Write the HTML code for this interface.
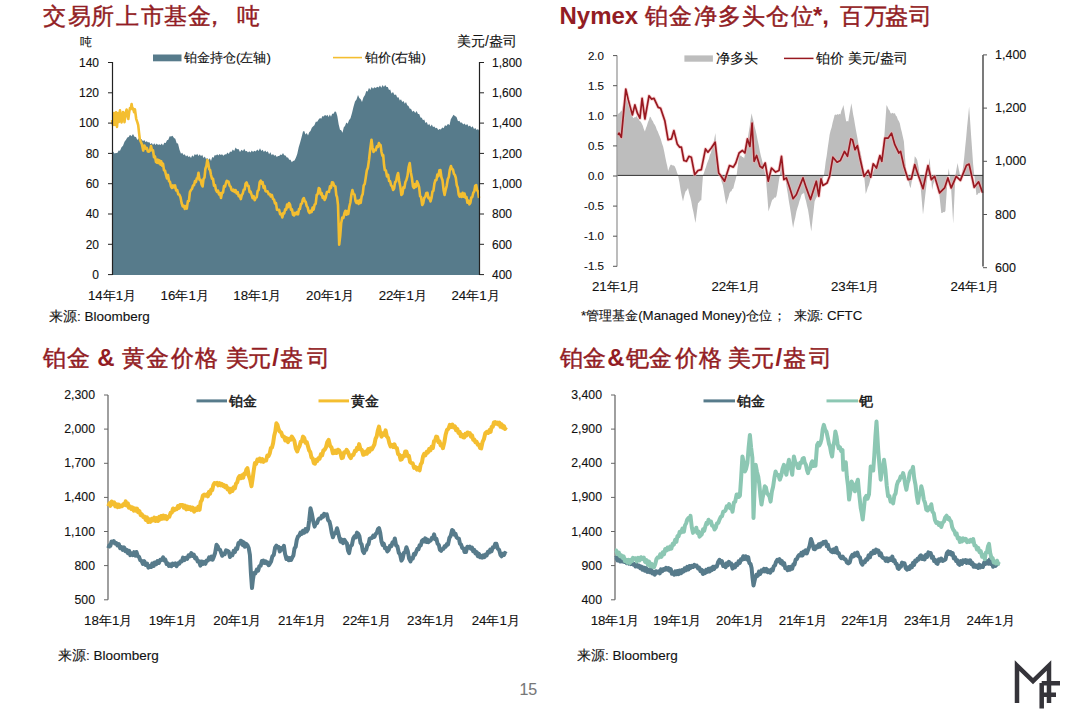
<!DOCTYPE html>
<html><head><meta charset="utf-8"><style>
html,body{margin:0;padding:0;background:#fff;}
body{width:1080px;height:723px;overflow:hidden;}
svg{display:block;font-family:"Liberation Sans",sans-serif;}
</style></head><body>
<svg width="1080" height="723" viewBox="0 0 1080 723">
<text x="42.9" y="23.5" font-size="22.5" fill="#921D24" stroke="#921D24" stroke-width="0.45">交</text>
<text x="68.2" y="23.5" font-size="22.5" fill="#921D24" stroke="#921D24" stroke-width="0.45">易</text>
<text x="90.9" y="23.5" font-size="22.5" fill="#921D24" stroke="#921D24" stroke-width="0.45">所</text>
<text x="115.5" y="23.5" font-size="22.5" fill="#921D24" stroke="#921D24" stroke-width="0.45">上</text>
<text x="140.9" y="23.5" font-size="22.5" fill="#921D24" stroke="#921D24" stroke-width="0.45">市</text>
<text x="163.8" y="23.5" font-size="22.5" fill="#921D24" stroke="#921D24" stroke-width="0.45">基</text>
<text x="188.3" y="23.5" font-size="22.5" fill="#921D24" stroke="#921D24" stroke-width="0.45">金</text>
<text x="202.7" y="23.5" font-size="22.5" fill="#921D24" stroke="#921D24" stroke-width="0.45">，</text>
<text x="237.1" y="23.5" font-size="22.5" fill="#921D24" stroke="#921D24" stroke-width="0.45">吨</text>
<text x="559.5" y="23.5" font-size="24" font-weight="bold" fill="#921D24">Nymex</text>
<text x="644.6" y="23.5" font-size="22.5" fill="#921D24" stroke="#921D24" stroke-width="0.45">铂</text>
<text x="668.5" y="23.5" font-size="22.5" fill="#921D24" stroke="#921D24" stroke-width="0.45">金</text>
<text x="694.0" y="23.5" font-size="22.5" fill="#921D24" stroke="#921D24" stroke-width="0.45">净</text>
<text x="717.9" y="23.5" font-size="22.5" fill="#921D24" stroke="#921D24" stroke-width="0.45">多</text>
<text x="741.8" y="23.5" font-size="22.5" fill="#921D24" stroke="#921D24" stroke-width="0.45">头</text>
<text x="765.9" y="23.5" font-size="22.5" fill="#921D24" stroke="#921D24" stroke-width="0.45">仓</text>
<text x="790.9" y="23.5" font-size="22.5" fill="#921D24" stroke="#921D24" stroke-width="0.45">位</text>
<text x="813.0" y="23.5" font-size="24" font-weight="bold" fill="#921D24">*,</text>
<text x="840.0" y="23.5" font-size="22.5" fill="#921D24" stroke="#921D24" stroke-width="0.45">百</text>
<text x="864.0" y="23.5" font-size="22.5" fill="#921D24" stroke="#921D24" stroke-width="0.45">万</text>
<text x="885.3" y="23.5" font-size="22.5" fill="#921D24" stroke="#921D24" stroke-width="0.45">盎</text>
<text x="909.4" y="23.5" font-size="22.5" fill="#921D24" stroke="#921D24" stroke-width="0.45">司</text>
<text x="43.0" y="366" font-size="22.5" fill="#921D24" stroke="#921D24" stroke-width="0.45">铂</text>
<text x="66.8" y="366" font-size="22.5" fill="#921D24" stroke="#921D24" stroke-width="0.45">金</text>
<text x="97.3" y="366" font-size="24" font-weight="bold" fill="#921D24">&amp;</text>
<text x="122.3" y="366" font-size="22.5" fill="#921D24" stroke="#921D24" stroke-width="0.45">黄</text>
<text x="146.4" y="366" font-size="22.5" fill="#921D24" stroke="#921D24" stroke-width="0.45">金</text>
<text x="171.4" y="366" font-size="22.5" fill="#921D24" stroke="#921D24" stroke-width="0.45">价</text>
<text x="194.5" y="366" font-size="22.5" fill="#921D24" stroke="#921D24" stroke-width="0.45">格</text>
<text x="225.6" y="366" font-size="22.5" fill="#921D24" stroke="#921D24" stroke-width="0.45">美</text>
<text x="247.6" y="366" font-size="22.5" fill="#921D24" stroke="#921D24" stroke-width="0.45">元</text>
<text x="272.3" y="366" font-size="24" font-weight="bold" fill="#921D24">/</text>
<text x="280.0" y="366" font-size="22.5" fill="#921D24" stroke="#921D24" stroke-width="0.45">盎</text>
<text x="306.6" y="366" font-size="22.5" fill="#921D24" stroke="#921D24" stroke-width="0.45">司</text>
<text x="559.7" y="366" font-size="22.5" fill="#921D24" stroke="#921D24" stroke-width="0.45">铂</text>
<text x="583.3" y="366" font-size="22.5" fill="#921D24" stroke="#921D24" stroke-width="0.45">金</text>
<text x="607.3" y="366" font-size="24" font-weight="bold" fill="#921D24">&amp;</text>
<text x="625.9" y="366" font-size="22.5" fill="#921D24" stroke="#921D24" stroke-width="0.45">钯</text>
<text x="649.0" y="366" font-size="22.5" fill="#921D24" stroke="#921D24" stroke-width="0.45">金</text>
<text x="675.0" y="366" font-size="22.5" fill="#921D24" stroke="#921D24" stroke-width="0.45">价</text>
<text x="699.0" y="366" font-size="22.5" fill="#921D24" stroke="#921D24" stroke-width="0.45">格</text>
<text x="728.2" y="366" font-size="22.5" fill="#921D24" stroke="#921D24" stroke-width="0.45">美</text>
<text x="750.9" y="366" font-size="22.5" fill="#921D24" stroke="#921D24" stroke-width="0.45">元</text>
<text x="775.5" y="366" font-size="24" font-weight="bold" fill="#921D24">/</text>
<text x="783.3" y="366" font-size="22.5" fill="#921D24" stroke="#921D24" stroke-width="0.45">盎</text>
<text x="809.2" y="366" font-size="22.5" fill="#921D24" stroke="#921D24" stroke-width="0.45">司</text>
<path d="M112.0,152.0 L113.0,151.4 L114.5,153.4 L116.0,153.0 L117.3,153.0 L118.7,150.5 L120.0,150.7 L121.5,147.2 L123.0,145.8 L124.5,141.7 L126.0,139.8 L127.3,137.5 L128.7,137.0 L130.0,134.7 L131.5,136.2 L133.0,134.0 L134.5,136.7 L136.0,137.0 L137.3,139.9 L138.7,138.2 L140.0,140.4 L141.5,139.0 L143.0,141.3 L144.2,140.0 L145.5,142.1 L146.8,141.3 L148.0,142.4 L149.2,141.9 L150.5,144.2 L151.8,143.0 L153.0,144.9 L154.2,143.2 L155.5,145.0 L156.8,143.6 L158.0,145.0 L159.2,144.3 L160.5,145.1 L161.8,143.6 L163.0,145.4 L164.3,142.8 L165.7,143.1 L167.0,140.2 L168.3,139.8 L169.7,136.2 L171.0,136.6 L172.5,135.7 L174.0,137.9 L175.3,138.7 L176.7,143.3 L178.0,143.5 L179.5,149.8 L181.0,153.8 L182.2,152.8 L183.5,155.0 L184.8,154.3 L186.0,156.5 L187.2,155.3 L188.5,157.0 L189.8,156.3 L191.0,158.0 L192.2,155.3 L193.5,156.7 L194.8,153.9 L196.0,155.2 L197.2,153.7 L198.5,155.9 L199.8,154.3 L201.0,156.2 L202.2,154.8 L203.5,158.0 L204.8,156.5 L206.0,159.0 L207.2,158.1 L208.5,159.9 L209.8,158.2 L211.0,161.0 L212.2,157.1 L213.5,157.7 L214.8,155.1 L216.0,155.6 L217.2,154.3 L218.4,155.4 L219.6,154.1 L220.8,155.0 L222.0,154.3 L223.5,155.7 L225.0,154.2 L226.2,154.5 L227.5,152.6 L228.8,153.9 L230.0,151.6 L231.4,152.0 L232.8,149.5 L234.2,150.9 L235.6,147.6 L237.0,149.2 L238.5,149.1 L240.0,152.0 L241.5,149.8 L243.0,150.9 L244.2,148.8 L245.5,151.2 L246.8,150.9 L248.0,152.5 L249.2,151.3 L250.5,152.5 L251.8,150.5 L253.0,151.9 L254.4,150.7 L255.8,151.4 L257.2,149.6 L258.6,150.9 L260.0,148.3 L261.3,151.1 L262.6,149.7 L263.9,152.0 L265.2,150.5 L266.5,152.3 L267.8,151.2 L269.1,154.2 L270.4,152.3 L271.7,155.3 L273.0,153.9 L274.2,155.8 L275.5,155.1 L276.8,156.9 L278.0,156.0 L279.2,156.0 L280.5,154.5 L281.8,154.9 L283.0,153.1 L284.2,155.2 L285.5,155.6 L286.8,157.4 L288.0,157.6 L289.2,159.7 L290.5,159.7 L291.8,162.3 L293.0,161.0 L294.5,160.4 L296.0,157.4 L297.3,153.7 L298.7,147.3 L300.0,143.0 L301.5,137.6 L303.0,131.4 L304.2,131.0 L305.5,134.4 L306.8,133.1 L308.0,135.5 L309.2,132.2 L310.5,130.9 L311.8,127.8 L313.0,126.4 L314.4,125.3 L315.8,121.8 L317.2,121.8 L318.6,119.4 L320.0,118.0 L321.2,118.7 L322.5,115.9 L323.8,116.6 L325.0,114.7 L326.2,115.9 L327.4,114.7 L328.6,117.0 L329.8,114.4 L331.0,116.7 L332.2,113.8 L333.5,113.8 L334.8,111.4 L336.0,111.7 L337.3,116.1 L338.7,124.5 L340.0,129.7 L341.2,130.3 L342.5,132.7 L343.8,127.3 L345.0,126.1 L346.3,122.4 L347.7,123.7 L349.0,120.2 L350.5,118.3 L352.0,113.0 L353.5,106.7 L355.0,101.5 L356.5,99.5 L358.0,95.0 L359.3,97.9 L360.7,99.3 L362.0,102.1 L363.5,97.2 L365.0,95.1 L366.3,91.0 L367.7,91.4 L369.0,87.7 L370.3,90.1 L371.7,87.0 L373.0,88.7 L374.4,87.2 L375.8,88.0 L377.2,86.7 L378.6,87.4 L380.0,85.6 L381.3,87.7 L382.6,85.0 L383.9,86.9 L385.2,84.9 L386.5,86.9 L387.8,87.0 L389.0,90.1 L390.2,89.4 L391.5,93.6 L393.0,92.1 L394.5,94.9 L396.0,94.5 L397.2,97.6 L398.5,97.2 L399.8,100.5 L401.0,99.3 L402.2,102.0 L403.5,101.1 L404.8,103.8 L406.0,101.9 L407.2,105.2 L408.5,106.1 L409.8,108.7 L411.0,108.7 L412.4,111.8 L413.8,110.8 L415.2,113.0 L416.6,111.0 L418.0,114.0 L419.2,114.1 L420.5,117.4 L421.8,117.8 L423.0,120.3 L424.2,119.6 L425.5,123.0 L426.8,122.1 L428.0,125.3 L429.2,123.8 L430.5,126.5 L431.8,124.6 L433.0,126.9 L434.3,126.5 L435.6,128.3 L436.9,127.8 L438.2,130.0 L439.5,129.1 L440.9,129.5 L442.2,127.4 L443.6,128.2 L445.0,125.3 L446.5,126.1 L448.0,123.7 L449.5,125.3 L450.8,119.2 L452.0,117.3 L453.5,114.7 L455.0,115.9 L456.5,117.1 L458.0,121.3 L459.3,120.8 L460.6,122.7 L461.9,122.5 L463.2,124.6 L464.5,123.5 L465.9,125.3 L467.2,123.9 L468.6,126.4 L470.0,125.4 L471.3,127.5 L472.7,126.3 L474.0,129.0 L475.3,128.1 L476.7,130.0 L478.0,129.1 L479.0,130.4 L480.0,128.9 L480,275 L112,275 Z" fill="#577B8B"/>
<path d="M112.0,120.0 L113.0,125.0 L114.0,113.0 L115.0,125.0 L116.0,112.4 L117.0,127.0 L118.0,113.0 L119.0,122.0 L120.0,110.4 L120.8,118.0 L121.6,122.4 L123.0,112.0 L123.8,114.1 L124.5,122.2 L125.5,113.4 L126.6,109.5 L127.5,115.9 L128.3,119.0 L129.2,112.0 L130.0,108.0 L130.8,108.4 L131.6,104.0 L132.4,109.2 L133.2,108.5 L134.1,112.2 L134.9,109.3 L136.2,118.8 L137.4,122.4 L138.2,125.2 L139.0,132.3 L139.8,139.2 L140.7,141.5 L141.9,144.3 L143.2,150.6 L144.4,145.5 L145.7,148.6 L146.8,147.9 L147.9,151.5 L149.0,151.7 L150.0,150.6 L151.0,146.1 L152.0,150.1 L153.0,150.2 L154.0,157.3 L155.0,156.5 L156.0,162.0 L156.9,162.6 L157.8,159.7 L158.6,163.1 L159.5,160.4 L160.4,164.6 L161.2,161.3 L162.1,165.7 L163.0,163.7 L164.0,170.2 L165.0,170.6 L166.0,175.0 L167.0,178.4 L168.0,174.9 L169.0,181.0 L170.0,182.0 L171.0,186.5 L172.0,188.0 L173.0,185.4 L174.0,187.4 L175.0,185.4 L176.1,190.4 L177.2,190.1 L178.3,194.3 L179.4,194.8 L180.5,197.3 L181.6,203.0 L182.7,206.4 L183.7,205.7 L184.8,208.9 L185.8,206.1 L186.8,208.6 L187.9,201.1 L188.9,201.0 L189.9,192.2 L191.0,190.0 L192.0,188.9 L193.0,185.5 L194.0,185.3 L195.0,181.0 L195.9,182.0 L196.8,178.3 L197.6,178.3 L198.5,172.8 L199.5,179.9 L200.6,179.8 L201.6,184.4 L202.6,186.5 L203.5,179.0 L204.5,177.5 L205.4,168.8 L206.4,166.0 L207.3,160.0 L208.2,163.2 L209.2,169.3 L210.1,170.0 L211.0,175.0 L212.0,178.6 L213.0,178.7 L214.0,185.7 L215.0,185.0 L216.0,190.0 L217.0,191.9 L218.0,190.5 L219.0,194.5 L220.0,193.1 L221.0,197.9 L222.0,192.7 L223.0,192.6 L224.0,186.1 L225.0,186.7 L226.0,183.0 L226.8,180.8 L227.5,181.5 L228.5,181.6 L229.6,185.7 L230.6,186.7 L231.6,190.0 L232.6,190.9 L233.6,189.7 L234.6,192.0 L235.6,190.1 L236.6,193.4 L237.7,192.1 L238.7,196.2 L239.8,195.6 L240.8,199.1 L241.8,194.9 L242.7,193.8 L243.7,189.7 L244.7,189.5 L245.6,183.5 L246.6,182.4 L247.6,185.7 L248.6,186.0 L249.6,192.1 L250.6,191.6 L251.6,194.8 L252.6,198.2 L253.6,196.1 L254.7,200.1 L255.7,197.9 L256.7,197.4 L257.7,190.8 L258.7,190.2 L259.7,182.2 L260.7,180.7 L261.7,183.6 L262.6,182.2 L263.6,187.9 L264.6,186.2 L265.5,191.0 L266.5,191.5 L267.6,191.4 L268.7,194.3 L269.8,194.0 L270.8,196.4 L271.9,195.0 L273.0,199.0 L274.0,199.6 L275.0,203.4 L276.0,203.1 L277.0,209.8 L278.0,210.0 L279.1,209.8 L280.1,214.2 L281.2,213.9 L282.3,217.4 L283.3,213.1 L284.2,213.4 L285.2,209.3 L286.1,209.7 L287.1,204.5 L288.0,207.3 L289.0,203.0 L290.0,204.4 L291.0,209.8 L292.0,209.4 L293.0,214.7 L294.0,215.4 L295.0,212.9 L296.0,214.2 L297.0,212.1 L298.0,214.4 L299.0,209.1 L299.9,208.9 L300.9,204.1 L301.9,203.5 L302.8,199.5 L303.8,198.0 L304.8,201.2 L305.7,201.8 L306.7,206.1 L307.7,207.5 L308.6,211.6 L309.6,213.0 L310.6,210.8 L311.6,212.0 L312.6,207.5 L313.6,209.6 L314.6,204.7 L315.7,203.7 L316.7,195.0 L317.8,193.8 L318.8,188.0 L319.8,188.9 L320.7,194.4 L321.7,193.2 L322.7,197.9 L323.6,196.3 L324.6,200.0 L325.7,197.7 L326.9,192.2 L328.0,191.5 L329.0,191.9 L330.0,186.2 L331.0,187.9 L332.0,182.2 L333.0,182.4 L334.2,185.9 L335.4,186.5 L336.3,195.1 L337.1,197.3 L338.0,205.0 L339.2,244.6 L340.2,235.8 L341.2,223.0 L342.3,217.6 L343.4,217.9 L344.5,213.0 L345.4,210.8 L346.4,214.8 L347.4,211.2 L348.3,213.9 L349.3,206.7 L350.4,202.2 L351.4,194.6 L352.4,190.0 L353.4,193.9 L354.5,194.4 L355.6,201.3 L356.6,203.0 L357.6,200.9 L358.6,203.9 L359.7,200.1 L360.7,202.9 L361.7,196.3 L362.7,194.1 L363.7,185.5 L364.7,184.1 L365.7,178.0 L366.8,170.5 L367.9,167.7 L369.0,160.0 L370.2,149.2 L371.5,139.7 L372.5,147.7 L373.5,152.0 L374.6,149.8 L375.7,150.2 L376.9,146.3 L378.0,146.9 L378.9,143.1 L379.8,144.9 L380.6,145.1 L381.5,152.0 L382.4,155.6 L383.2,155.1 L384.0,164.5 L384.8,170.0 L385.9,170.4 L387.0,176.4 L388.1,174.9 L389.1,181.0 L390.1,181.3 L391.1,185.4 L392.1,186.4 L393.1,190.0 L394.1,188.5 L395.1,182.1 L396.1,181.4 L397.1,175.9 L398.1,173.0 L399.2,180.9 L400.3,186.7 L401.4,195.0 L402.4,193.8 L403.4,187.2 L404.4,187.8 L405.4,182.0 L406.4,180.0 L407.5,175.8 L408.6,167.3 L409.7,163.0 L410.8,172.2 L411.9,178.0 L413.0,186.5 L414.0,188.0 L415.0,184.2 L416.0,186.8 L417.0,181.4 L418.0,183.5 L419.1,187.1 L420.1,196.1 L421.1,197.2 L422.2,205.0 L423.2,203.3 L424.2,198.0 L425.3,196.9 L426.3,193.0 L427.4,192.8 L428.4,198.1 L429.4,197.8 L430.5,201.5 L431.5,198.0 L432.5,191.4 L433.4,190.9 L434.4,183.6 L435.4,180.0 L436.4,180.1 L437.4,174.5 L438.4,176.2 L439.4,170.2 L440.4,170.0 L441.4,177.2 L442.5,180.3 L443.6,190.2 L444.6,195.0 L445.7,189.6 L446.7,185.8 L447.8,179.1 L448.8,177.0 L449.8,169.8 L450.9,166.0 L451.9,169.0 L452.9,169.4 L453.9,173.8 L454.9,175.0 L455.8,177.8 L456.8,185.3 L457.8,187.8 L458.7,194.6 L459.7,196.7 L460.6,193.9 L461.6,196.9 L462.6,192.8 L463.5,196.8 L464.5,193.6 L465.5,197.7 L466.5,197.2 L467.4,202.8 L468.4,200.7 L469.4,204.3 L470.4,202.7 L471.3,197.5 L472.3,197.0 L473.3,192.7 L474.3,191.2 L475.2,185.7 L476.2,185.0 L477.1,190.4 L478.1,191.4 L479.0,198.0" fill="none" stroke="#F4BE30" stroke-width="2.6" stroke-linejoin="round"/>
<path d="M112.5,62 V275 M479.5,62 V275" stroke="#222" stroke-width="1.2" fill="none"/>
<path d="M108,62.5 H112.5 M479.5,62.5 H484 M108,92.8 H112.5 M479.5,92.8 H484 M108,123.1 H112.5 M479.5,123.1 H484 M108,153.4 H112.5 M479.5,153.4 H484 M108,183.7 H112.5 M479.5,183.7 H484 M108,214.0 H112.5 M479.5,214.0 H484 M108,244.3 H112.5 M479.5,244.3 H484 M108,274.6 H112.5 M479.5,274.6 H484 " stroke="#222" stroke-width="1" fill="none"/>
<text x="99" y="66.8" font-size="12" text-anchor="end" fill="#111" stroke="#111" stroke-width="0.12" font-weight="normal" >140</text>
<text x="99" y="97.1" font-size="12" text-anchor="end" fill="#111" stroke="#111" stroke-width="0.12" font-weight="normal" >120</text>
<text x="99" y="127.4" font-size="12" text-anchor="end" fill="#111" stroke="#111" stroke-width="0.12" font-weight="normal" >100</text>
<text x="99" y="157.7" font-size="12" text-anchor="end" fill="#111" stroke="#111" stroke-width="0.12" font-weight="normal" >80</text>
<text x="99" y="188.0" font-size="12" text-anchor="end" fill="#111" stroke="#111" stroke-width="0.12" font-weight="normal" >60</text>
<text x="99" y="218.3" font-size="12" text-anchor="end" fill="#111" stroke="#111" stroke-width="0.12" font-weight="normal" >40</text>
<text x="99" y="248.6" font-size="12" text-anchor="end" fill="#111" stroke="#111" stroke-width="0.12" font-weight="normal" >20</text>
<text x="99" y="278.9" font-size="12" text-anchor="end" fill="#111" stroke="#111" stroke-width="0.12" font-weight="normal" >0</text>
<text x="492" y="66.8" font-size="12" text-anchor="start" fill="#111" stroke="#111" stroke-width="0.12" font-weight="normal" >1,800</text>
<text x="492" y="97.1" font-size="12" text-anchor="start" fill="#111" stroke="#111" stroke-width="0.12" font-weight="normal" >1,600</text>
<text x="492" y="127.4" font-size="12" text-anchor="start" fill="#111" stroke="#111" stroke-width="0.12" font-weight="normal" >1,400</text>
<text x="492" y="157.7" font-size="12" text-anchor="start" fill="#111" stroke="#111" stroke-width="0.12" font-weight="normal" >1,200</text>
<text x="492" y="188.0" font-size="12" text-anchor="start" fill="#111" stroke="#111" stroke-width="0.12" font-weight="normal" >1,000</text>
<text x="492" y="218.3" font-size="12" text-anchor="start" fill="#111" stroke="#111" stroke-width="0.12" font-weight="normal" >800</text>
<text x="492" y="248.6" font-size="12" text-anchor="start" fill="#111" stroke="#111" stroke-width="0.12" font-weight="normal" >600</text>
<text x="492" y="278.9" font-size="12" text-anchor="start" fill="#111" stroke="#111" stroke-width="0.12" font-weight="normal" >400</text>
<text x="80" y="46" font-size="12" text-anchor="start" fill="#111" stroke="#111" stroke-width="0.12" font-weight="normal" >吨</text>
<text x="457" y="45.5" font-size="13.8" text-anchor="start" fill="#111" stroke="#111" stroke-width="0.12" font-weight="normal" >美元/盎司</text>
<rect x="153" y="54.5" width="28.5" height="6.8" fill="#577B8B"/>
<text x="184" y="62" font-size="13.4" text-anchor="start" fill="#111" stroke="#111" stroke-width="0.12" font-weight="normal" >铂金持仓(左轴)</text>
<path d="M333,57.6 H362" stroke="#F4BE30" stroke-width="1.6"/>
<text x="365" y="62" font-size="13.3" text-anchor="start" fill="#111" stroke="#111" stroke-width="0.12" font-weight="normal" >铂价(右轴)</text>
<text x="112.0" y="300" font-size="13.3" text-anchor="middle" fill="#111" stroke="#111" stroke-width="0.12" font-weight="normal" >14年1月</text>
<text x="184.7" y="300" font-size="13.3" text-anchor="middle" fill="#111" stroke="#111" stroke-width="0.12" font-weight="normal" >16年1月</text>
<text x="257.4" y="300" font-size="13.3" text-anchor="middle" fill="#111" stroke="#111" stroke-width="0.12" font-weight="normal" >18年1月</text>
<text x="330.1" y="300" font-size="13.3" text-anchor="middle" fill="#111" stroke="#111" stroke-width="0.12" font-weight="normal" >20年1月</text>
<text x="402.8" y="300" font-size="13.3" text-anchor="middle" fill="#111" stroke="#111" stroke-width="0.12" font-weight="normal" >22年1月</text>
<text x="475.5" y="300" font-size="13.3" text-anchor="middle" fill="#111" stroke="#111" stroke-width="0.12" font-weight="normal" >24年1月</text>
<text x="49" y="321" font-size="13.5" text-anchor="start" fill="#111" stroke="#111" stroke-width="0.12" font-weight="normal" >来源: Bloomberg</text>
<path d="M617.0,175.4 L617.5,114.9 L618.5,113.6 L619.5,113.0 L620.6,111.4 L621.6,110.9 L622.6,106.9 L623.7,104.2 L624.8,99.6 L625.8,96.6 L626.8,100.4 L627.9,102.8 L629.0,107.1 L630.0,109.9 L631.1,112.1 L632.2,115.8 L633.3,118.2 L634.4,117.2 L635.5,117.2 L636.6,116.0 L637.6,118.2 L638.6,118.7 L639.6,120.9 L640.6,121.6 L641.6,123.3 L642.7,125.4 L643.8,128.9 L644.9,131.5 L645.9,128.2 L646.9,125.8 L647.9,122.2 L648.9,120.0 L649.9,116.5 L650.9,117.6 L651.9,120.1 L652.8,121.0 L653.8,123.4 L654.8,124.8 L655.8,126.7 L656.8,129.7 L657.8,131.6 L658.8,134.3 L659.8,136.4 L660.9,139.5 L662.0,143.6 L663.1,146.4 L664.2,151.6 L665.4,157.7 L666.5,163.0 L667.3,166.2 L668.1,171.1 L669.4,167.2 L670.6,164.8 L671.6,164.8 L672.7,165.6 L673.8,165.6 L674.8,166.5 L675.9,169.1 L677.0,172.6 L678.1,175.4 L679.4,182.3 L680.6,189.9 L681.8,196.2 L683.0,201.5 L684.2,196.0 L685.5,191.5 L686.8,190.2 L688.0,187.9 L689.1,193.0 L690.2,196.8 L691.3,201.5 L692.3,207.2 L693.4,212.1 L694.5,217.9 L695.5,223.0 L696.8,212.5 L698.0,203.2 L699.1,202.2 L700.2,200.6 L701.3,200.2 L702.1,187.1 L703.0,175.4 L704.0,172.8 L705.0,169.5 L705.9,167.2 L706.9,163.8 L707.9,161.3 L708.9,158.7 L709.9,154.8 L710.9,152.9 L711.9,148.8 L712.9,146.4 L714.1,139.9 L715.4,133.1 L716.6,149.6 L717.9,166.3 L718.8,171.3 L719.6,175.4 L720.7,178.0 L721.7,182.1 L722.8,184.9 L723.9,191.1 L725.1,198.3 L726.2,204.8 L727.3,200.6 L728.4,197.6 L729.5,193.2 L730.5,191.4 L731.4,191.2 L732.3,188.9 L733.3,188.4 L734.4,183.8 L735.5,179.9 L736.6,175.4 L737.9,164.7 L739.1,154.7 L740.1,155.8 L741.1,155.4 L742.1,157.1 L743.1,156.9 L744.1,158.5 L745.4,151.9 L746.6,146.4 L747.6,140.1 L748.6,133.0 L749.6,127.0 L750.6,119.6 L751.6,113.2 L752.6,118.1 L753.6,121.4 L754.6,126.4 L755.6,130.3 L756.6,134.8 L757.7,140.6 L758.8,145.4 L759.9,151.4 L760.9,155.9 L761.8,159.2 L762.8,163.6 L763.8,167.0 L764.7,171.8 L765.7,175.4 L766.6,187.1 L767.6,199.7 L768.5,211.5 L769.5,208.2 L770.4,205.8 L771.3,202.5 L772.3,199.8 L773.3,199.3 L774.4,197.6 L775.5,197.8 L776.5,196.0 L777.6,189.8 L778.7,182.2 L779.8,175.4 L780.6,169.4 L781.5,163.0 L782.6,166.6 L783.7,171.7 L784.8,175.4 L785.8,181.4 L786.8,188.0 L787.8,193.7 L788.8,200.7 L789.8,206.5 L790.9,213.3 L792.0,221.1 L793.1,228.0 L794.2,222.1 L795.3,217.6 L796.4,211.5 L797.4,208.0 L798.4,205.0 L799.4,201.3 L800.4,198.5 L801.4,194.9 L802.3,193.8 L803.1,193.8 L804.0,192.5 L805.0,197.7 L806.0,201.0 L807.0,205.8 L808.0,209.8 L809.1,216.4 L810.2,224.5 L811.3,231.4 L812.4,220.9 L813.5,211.7 L814.6,201.5 L815.6,199.0 L816.6,197.3 L817.6,194.3 L818.6,192.8 L819.6,189.9 L820.6,185.9 L821.7,182.9 L822.8,178.8 L823.8,175.4 L824.8,169.0 L825.7,161.4 L826.7,155.7 L827.7,148.1 L828.6,141.9 L829.6,134.8 L830.6,130.6 L831.6,127.4 L832.6,122.7 L833.6,119.0 L834.6,114.9 L835.6,114.6 L836.5,114.9 L837.5,113.9 L838.5,114.8 L839.4,113.7 L840.4,114.6 L841.4,110.4 L842.4,108.2 L843.4,104.9 L844.3,110.2 L845.3,116.5 L846.2,121.5 L847.2,121.0 L848.3,121.6 L849.3,115.0 L850.3,109.6 L851.3,103.2 L852.2,108.3 L853.1,114.3 L854.1,119.2 L855.0,124.8 L856.1,131.0 L857.2,136.7 L858.3,143.1 L859.4,148.4 L860.5,152.5 L861.6,158.0 L862.9,166.9 L864.1,175.4 L864.9,184.1 L865.7,194.0 L866.8,191.1 L867.8,187.5 L868.9,185.2 L869.9,181.6 L870.8,178.0 L871.6,175.7 L872.7,172.7 L873.8,170.5 L874.9,167.3 L876.0,165.0 L877.0,164.3 L878.0,162.3 L879.0,161.5 L880.0,159.4 L881.1,157.8 L882.1,155.0 L883.2,153.5 L884.3,136.5 L885.4,121.1 L886.5,104.9 L887.5,106.8 L888.5,109.2 L889.6,110.6 L890.6,113.2 L891.6,113.4 L892.7,112.7 L893.8,113.8 L894.8,112.9 L895.8,115.5 L896.8,116.6 L897.8,119.6 L898.8,121.0 L899.8,123.2 L900.8,128.2 L901.8,132.0 L902.9,137.1 L903.9,141.4 L905.1,158.3 L906.4,175.4 L907.5,179.1 L908.5,181.2 L909.5,185.4 L910.6,188.2 L911.8,181.2 L913.0,175.4 L913.9,166.0 L914.7,156.3 L916.0,157.8 L917.2,160.0 L918.5,167.0 L919.7,175.4 L920.8,189.1 L921.9,201.4 L923.0,214.8 L924.1,205.6 L925.2,195.7 L926.3,186.6 L927.4,177.4 L928.5,167.0 L929.6,158.0 L930.9,174.2 L932.1,189.9 L933.2,184.6 L934.4,180.7 L935.5,175.4 L936.6,179.8 L937.7,185.6 L938.8,190.0 L940.0,201.1 L941.3,213.1 L942.3,213.0 L943.3,212.0 L944.4,212.2 L945.4,211.0 L946.6,193.6 L947.9,175.4 L948.8,168.3 L950.0,179.7 L951.2,190.0 L952.2,206.7 L953.2,223.8 L954.3,199.8 L955.4,175.4 L956.5,169.1 L957.6,163.0 L958.5,168.0 L959.4,172.0 L960.3,177.5 L961.2,181.6 L962.2,173.0 L963.2,166.1 L964.2,157.4 L965.2,147.0 L966.2,137.2 L967.1,126.7 L968.1,117.0 L969.1,106.5 L970.1,120.4 L971.1,135.6 L972.1,149.4 L973.1,164.0 L974.2,174.7 L975.3,184.2 L976.4,195.0 L977.4,194.7 L978.5,193.1 L979.5,193.3 L980.5,191.6 L981.6,191.5 L982.6,190.1 L983.0,175.4 Z" fill="#BDBDBD"/>
<path d="M617,175.4 H983" stroke="#333" stroke-width="1"/>
<path d="M617.5,134.8 L619.1,133.1 L621.3,137.3 L625.8,89.1 L628.3,99.9 L632.4,114.9 L634.9,104.9 L637.4,113.2 L639.9,118.2 L642.1,98.3 L644.9,119.0 L649.0,95.8 L651.5,99.1 L654.0,98.3 L658.2,107.4 L660.6,108.2 L664.8,120.7 L668.1,139.8 L671.4,138.9 L673.9,130.6 L677.2,143.9 L679.7,147.2 L681.4,147.2 L683.9,160.5 L686.4,161.3 L688.9,156.3 L691.3,157.2 L694.7,174.6 L698.0,170.5 L701.3,169.6 L705.5,148.9 L707.9,152.2 L711.3,148.0 L715.1,142.2 L718.7,172.9 L721.2,176.3 L724.5,181.2 L729.5,165.5 L733.3,167.1 L735.8,163.0 L739.1,153.0 L742.4,150.5 L744.9,153.0 L747.4,138.9 L749.9,146.4 L752.1,123.2 L754.1,161.3 L756.6,155.5 L759.9,166.3 L762.4,168.0 L765.2,163.0 L768.2,181.2 L771.5,168.0 L775.6,172.1 L779.0,170.5 L781.5,156.3 L783.9,179.6 L786.4,177.9 L789.8,187.9 L793.1,198.7 L796.4,194.5 L803.0,177.9 L806.3,187.9 L810.5,199.5 L816.3,181.2 L818.8,196.2 L821.0,178.8 L822.9,185.4 L827.1,182.9 L829.6,176.3 L832.9,157.2 L837.1,162.2 L840.4,160.5 L844.5,151.4 L847.5,156.3 L850.8,138.9 L852.5,139.8 L855.0,149.7 L857.4,145.6 L859.9,158.0 L864.1,176.3 L868.2,170.5 L870.7,177.1 L873.2,163.8 L876.5,168.0 L879.9,155.5 L881.8,161.3 L884.8,138.1 L888.2,138.1 L891.5,133.1 L894.8,144.7 L898.9,153.0 L900.6,151.4 L903.9,166.3 L908.1,179.6 L911.4,178.8 L914.7,164.6 L918.0,174.6 L923.0,188.7 L928.0,165.5 L931.3,179.6 L934.6,176.3 L939.6,192.9 L944.6,187.9 L947.9,177.9 L951.2,187.9 L956.2,176.3 L960.4,180.4 L966.5,165.2 L969.1,164.1 L974.2,187.3 L978.6,181.8 L982.6,192.8" fill="none" stroke="#F3B0B3" stroke-width="3.4" stroke-linejoin="round" opacity="0.6"/>
<path d="M617.5,134.8 L619.1,133.1 L621.3,137.3 L625.8,89.1 L628.3,99.9 L632.4,114.9 L634.9,104.9 L637.4,113.2 L639.9,118.2 L642.1,98.3 L644.9,119.0 L649.0,95.8 L651.5,99.1 L654.0,98.3 L658.2,107.4 L660.6,108.2 L664.8,120.7 L668.1,139.8 L671.4,138.9 L673.9,130.6 L677.2,143.9 L679.7,147.2 L681.4,147.2 L683.9,160.5 L686.4,161.3 L688.9,156.3 L691.3,157.2 L694.7,174.6 L698.0,170.5 L701.3,169.6 L705.5,148.9 L707.9,152.2 L711.3,148.0 L715.1,142.2 L718.7,172.9 L721.2,176.3 L724.5,181.2 L729.5,165.5 L733.3,167.1 L735.8,163.0 L739.1,153.0 L742.4,150.5 L744.9,153.0 L747.4,138.9 L749.9,146.4 L752.1,123.2 L754.1,161.3 L756.6,155.5 L759.9,166.3 L762.4,168.0 L765.2,163.0 L768.2,181.2 L771.5,168.0 L775.6,172.1 L779.0,170.5 L781.5,156.3 L783.9,179.6 L786.4,177.9 L789.8,187.9 L793.1,198.7 L796.4,194.5 L803.0,177.9 L806.3,187.9 L810.5,199.5 L816.3,181.2 L818.8,196.2 L821.0,178.8 L822.9,185.4 L827.1,182.9 L829.6,176.3 L832.9,157.2 L837.1,162.2 L840.4,160.5 L844.5,151.4 L847.5,156.3 L850.8,138.9 L852.5,139.8 L855.0,149.7 L857.4,145.6 L859.9,158.0 L864.1,176.3 L868.2,170.5 L870.7,177.1 L873.2,163.8 L876.5,168.0 L879.9,155.5 L881.8,161.3 L884.8,138.1 L888.2,138.1 L891.5,133.1 L894.8,144.7 L898.9,153.0 L900.6,151.4 L903.9,166.3 L908.1,179.6 L911.4,178.8 L914.7,164.6 L918.0,174.6 L923.0,188.7 L928.0,165.5 L931.3,179.6 L934.6,176.3 L939.6,192.9 L944.6,187.9 L947.9,177.9 L951.2,187.9 L956.2,176.3 L960.4,180.4 L966.5,165.2 L969.1,164.1 L974.2,187.3 L978.6,181.8 L982.6,192.8" fill="none" stroke="#981820" stroke-width="1.7" stroke-linejoin="round"/>
<path d="M617,55.6 V266.5" stroke="#999" stroke-width="1.3" fill="none"/><path d="M983,55 V266.5" stroke="#333" stroke-width="1.3" fill="none"/>
<path d="M613,55.6 H617 M613,85.7 H617 M613,115.8 H617 M613,145.9 H617 M613,176.0 H617 M613,206.1 H617 M613,236.2 H617 M613,266.3 H617 M983,54.9 H987 M983,108.1 H987 M983,161.3 H987 M983,214.5 H987 M983,267.7 H987 " stroke="#555" stroke-width="1" fill="none"/>
<text x="604" y="59.6" font-size="11.6" text-anchor="end" fill="#111" stroke="#111" stroke-width="0.12" font-weight="normal" >2.0</text>
<text x="604" y="89.7" font-size="11.6" text-anchor="end" fill="#111" stroke="#111" stroke-width="0.12" font-weight="normal" >1.5</text>
<text x="604" y="119.8" font-size="11.6" text-anchor="end" fill="#111" stroke="#111" stroke-width="0.12" font-weight="normal" >1.0</text>
<text x="604" y="149.9" font-size="11.6" text-anchor="end" fill="#111" stroke="#111" stroke-width="0.12" font-weight="normal" >0.5</text>
<text x="604" y="180.0" font-size="11.6" text-anchor="end" fill="#111" stroke="#111" stroke-width="0.12" font-weight="normal" >0.0</text>
<text x="604" y="210.1" font-size="11.6" text-anchor="end" fill="#111" stroke="#111" stroke-width="0.12" font-weight="normal" >-0.5</text>
<text x="604" y="240.2" font-size="11.6" text-anchor="end" fill="#111" stroke="#111" stroke-width="0.12" font-weight="normal" >-1.0</text>
<text x="604" y="270.3" font-size="11.6" text-anchor="end" fill="#111" stroke="#111" stroke-width="0.12" font-weight="normal" >-1.5</text>
<text x="995" y="58.9" font-size="12.5" text-anchor="start" fill="#111" stroke="#111" stroke-width="0.12" font-weight="normal" >1,400</text>
<text x="995" y="112.1" font-size="12.5" text-anchor="start" fill="#111" stroke="#111" stroke-width="0.12" font-weight="normal" >1,200</text>
<text x="995" y="165.3" font-size="12.5" text-anchor="start" fill="#111" stroke="#111" stroke-width="0.12" font-weight="normal" >1,000</text>
<text x="995" y="218.5" font-size="12.5" text-anchor="start" fill="#111" stroke="#111" stroke-width="0.12" font-weight="normal" >800</text>
<text x="995" y="271.7" font-size="12.5" text-anchor="start" fill="#111" stroke="#111" stroke-width="0.12" font-weight="normal" >600</text>
<rect x="684.4" y="55.4" width="28.5" height="6.3" fill="#BDBDBD"/>
<text x="716" y="63" font-size="13.8" text-anchor="start" fill="#111" stroke="#111" stroke-width="0.12" font-weight="normal" >净多头</text>
<path d="M784,58.4 H813.5" stroke="#981820" stroke-width="1.5"/>
<text x="816" y="63" font-size="13.9" text-anchor="start" fill="#111" stroke="#111" stroke-width="0.12" font-weight="normal" >铂价 美元/盎司</text>
<text x="616.0" y="291" font-size="13.3" text-anchor="middle" fill="#111" stroke="#111" stroke-width="0.12" font-weight="normal" >21年1月</text>
<text x="735.5" y="291" font-size="13.3" text-anchor="middle" fill="#111" stroke="#111" stroke-width="0.12" font-weight="normal" >22年1月</text>
<text x="855.0" y="291" font-size="13.3" text-anchor="middle" fill="#111" stroke="#111" stroke-width="0.12" font-weight="normal" >23年1月</text>
<text x="974.5" y="291" font-size="13.3" text-anchor="middle" fill="#111" stroke="#111" stroke-width="0.12" font-weight="normal" >24年1月</text>
<text x="581" y="320" font-size="13.3" text-anchor="start" fill="#111" stroke="#111" stroke-width="0.12" font-weight="normal" >*管理基金(Managed Money)仓位</text>
<text x="773" y="320" font-size="13.3" text-anchor="start" fill="#111" stroke="#111" stroke-width="0.12" font-weight="normal" >；</text>
<text x="793.5" y="320" font-size="13.3" text-anchor="start" fill="#111" stroke="#111" stroke-width="0.12" font-weight="normal" >来源: CFTC</text>
<path d="M108,395 V599.8" stroke="#777" stroke-width="1.4" fill="none"/>
<path d="M104,395.0 H108 M104,429.1 H108 M104,463.3 H108 M104,497.4 H108 M104,531.5 H108 M104,565.6 H108 M104,599.8 H108 " stroke="#666" stroke-width="1" fill="none"/>
<text x="95" y="399.0" font-size="12.3" text-anchor="end" fill="#111" stroke="#111" stroke-width="0.12" font-weight="normal" >2,300</text>
<text x="95" y="433.1" font-size="12.3" text-anchor="end" fill="#111" stroke="#111" stroke-width="0.12" font-weight="normal" >2,000</text>
<text x="95" y="467.3" font-size="12.3" text-anchor="end" fill="#111" stroke="#111" stroke-width="0.12" font-weight="normal" >1,700</text>
<text x="95" y="501.4" font-size="12.3" text-anchor="end" fill="#111" stroke="#111" stroke-width="0.12" font-weight="normal" >1,400</text>
<text x="95" y="535.5" font-size="12.3" text-anchor="end" fill="#111" stroke="#111" stroke-width="0.12" font-weight="normal" >1,100</text>
<text x="95" y="569.6" font-size="12.3" text-anchor="end" fill="#111" stroke="#111" stroke-width="0.12" font-weight="normal" >800</text>
<text x="95" y="603.8" font-size="12.3" text-anchor="end" fill="#111" stroke="#111" stroke-width="0.12" font-weight="normal" >500</text>
<path d="M108.3,548.1 L109.3,545.4 L110.4,545.7 L111.5,541.6 L112.5,542.3 L113.7,541.0 L115.0,543.5 L116.2,543.0 L117.4,545.4 L118.8,544.1 L120.2,548.3 L121.6,547.2 L122.8,549.8 L124.1,547.4 L125.3,551.2 L126.6,549.8 L127.8,553.1 L129.1,550.8 L130.3,555.1 L131.6,553.3 L132.8,555.1 L134.1,552.2 L135.3,555.6 L136.5,552.0 L137.8,556.2 L139.0,556.8 L140.2,560.1 L141.5,560.7 L142.9,563.9 L144.3,561.2 L145.7,565.0 L147.1,563.5 L148.4,567.6 L149.8,566.1 L151.1,567.0 L152.3,563.5 L153.6,566.0 L154.8,562.5 L156.2,564.2 L157.5,561.1 L158.9,562.9 L160.3,559.8 L161.7,560.1 L163.1,557.4 L164.3,560.4 L165.4,559.7 L166.6,564.0 L167.7,563.4 L168.9,566.0 L170.2,564.3 L171.4,566.2 L172.7,563.6 L173.9,564.8 L175.3,563.4 L176.6,566.1 L178.0,563.4 L179.2,563.8 L180.5,561.2 L181.8,561.4 L183.0,557.6 L184.4,560.1 L185.8,557.8 L187.2,558.8 L188.6,555.2 L189.9,556.4 L191.3,553.0 L192.6,556.0 L193.8,554.5 L195.1,558.5 L196.3,557.6 L197.7,561.5 L199.0,561.2 L200.4,565.7 L201.7,561.5 L202.9,564.0 L204.2,561.9 L205.4,563.8 L206.7,560.4 L207.9,560.6 L209.2,557.3 L210.4,559.2 L211.5,556.7 L212.6,559.7 L213.7,557.1 L215.1,553.0 L216.5,544.8 L217.7,546.2 L218.8,549.4 L220.0,549.7 L221.2,553.1 L222.2,555.8 L223.3,553.7 L224.7,554.2 L226.1,550.3 L227.5,550.8 L228.8,551.9 L230.0,557.0 L231.2,554.3 L232.4,555.2 L233.7,550.8 L234.9,552.1 L236.1,548.2 L237.2,548.9 L238.4,543.1 L239.5,543.6 L240.7,540.7 L241.8,541.3 L242.8,545.1 L243.8,542.4 L244.9,546.8 L246.2,543.9 L247.4,545.1 L248.7,548.0 L249.9,554.8 L250.9,573.2 L252.0,588.0 L253.0,579.1 L254.0,573.0 L255.4,573.4 L256.8,569.6 L258.2,570.6 L259.4,566.1 L260.7,565.8 L261.9,560.9 L263.2,560.6 L264.3,563.0 L265.4,561.3 L266.5,563.4 L267.6,562.3 L268.7,565.2 L269.8,563.7 L271.1,561.5 L272.4,556.3 L273.8,554.8 L275.1,547.6 L276.4,545.6 L277.5,547.5 L278.7,547.1 L279.8,551.4 L281.2,548.2 L282.5,549.3 L283.9,545.9 L285.1,554.1 L286.4,558.9 L287.6,557.6 L288.7,560.3 L289.9,558.0 L291.0,560.0 L292.2,557.6 L293.4,555.5 L294.5,548.5 L295.7,546.6 L296.8,539.9 L298.0,536.5 L299.2,535.7 L300.5,532.6 L301.8,533.9 L303.0,530.7 L304.2,532.7 L305.5,529.1 L306.8,531.4 L308.0,529.2 L309.2,520.3 L310.5,508.3 L311.9,513.8 L313.2,521.1 L314.6,526.6 L315.9,523.4 L317.1,523.0 L318.4,519.3 L319.6,518.3 L320.8,518.5 L321.9,515.8 L323.1,516.7 L324.2,513.8 L325.4,514.9 L326.8,514.4 L328.1,520.1 L329.5,521.6 L330.6,526.3 L331.8,533.3 L332.9,537.3 L334.3,533.3 L335.6,533.2 L337.0,528.2 L338.2,532.6 L339.5,538.2 L340.6,541.6 L341.6,539.5 L343.0,543.1 L344.4,539.8 L345.8,542.2 L346.9,543.4 L348.0,550.4 L349.1,553.1 L350.5,546.2 L351.9,545.0 L353.3,538.2 L354.5,536.3 L355.8,537.4 L357.0,532.6 L358.2,533.7 L359.4,536.2 L360.5,542.8 L361.7,544.5 L362.8,551.0 L364.0,553.1 L365.1,549.8 L366.2,549.8 L367.4,545.0 L368.5,544.4 L369.6,538.8 L370.7,538.2 L371.9,538.1 L373.2,535.7 L374.4,536.9 L375.7,534.0 L376.8,532.9 L377.9,529.2 L379.0,528.1 L380.2,532.6 L381.5,541.5 L382.7,545.0 L383.8,543.7 L385.0,548.2 L386.1,547.8 L387.3,551.5 L388.7,549.9 L390.0,545.8 L391.4,546.2 L392.5,542.2 L393.7,543.3 L394.8,538.5 L396.1,545.3 L397.4,546.3 L398.8,552.8 L400.1,554.5 L401.4,560.6 L402.6,558.7 L403.9,552.9 L405.1,552.3 L406.4,547.3 L407.8,551.2 L409.1,558.7 L410.5,561.4 L411.7,558.1 L412.8,558.4 L414.0,553.8 L415.1,554.6 L416.3,551.5 L417.4,548.9 L418.5,549.2 L419.6,545.2 L420.8,545.4 L421.9,540.9 L423.0,539.8 L424.1,541.5 L425.2,538.4 L426.3,542.0 L427.4,539.5 L428.5,542.1 L429.6,541.1 L430.7,540.5 L431.9,537.9 L433.0,538.4 L434.1,534.4 L435.3,539.3 L436.4,538.8 L437.6,543.8 L438.8,544.9 L439.9,549.7 L441.1,550.8 L442.2,549.2 L443.4,548.9 L444.6,546.3 L445.7,546.7 L446.9,544.0 L448.0,544.6 L449.4,537.9 L450.7,535.9 L452.1,530.0 L453.2,530.9 L454.3,534.7 L455.5,533.8 L456.6,537.3 L457.7,538.3 L458.9,538.7 L460.0,543.7 L461.1,544.6 L462.3,548.1 L463.5,548.4 L464.6,552.1 L466.0,552.1 L467.3,546.8 L468.7,547.6 L469.8,546.6 L470.9,548.7 L472.1,547.7 L473.2,551.3 L474.3,549.8 L475.4,553.4 L476.6,552.0 L477.8,556.1 L478.9,553.8 L480.1,557.3 L481.2,555.9 L482.3,557.6 L483.4,555.3 L484.5,557.1 L485.6,554.7 L486.7,555.4 L487.9,551.9 L489.1,552.5 L490.3,549.5 L491.5,551.3 L492.8,547.3 L494.0,547.3 L495.2,543.8 L496.4,543.8 L497.8,548.7 L499.1,549.8 L500.5,554.9 L501.6,556.3 L502.7,553.7 L503.9,555.0 L505.0,552.9 L506.1,554.0" fill="none" stroke="#577B8B" stroke-width="4" stroke-linejoin="round"/>
<path d="M108.3,506.3 L109.4,503.4 L110.5,505.8 L111.6,501.5 L112.8,504.0 L114.1,502.4 L115.3,506.4 L116.6,504.3 L117.6,507.2 L118.7,504.7 L119.8,506.8 L120.8,505.7 L122.0,506.2 L123.2,504.2 L124.5,504.8 L125.7,501.4 L126.8,505.5 L127.8,503.3 L128.8,507.6 L129.9,506.3 L131.2,509.0 L132.4,507.3 L133.7,510.6 L134.9,508.4 L136.0,510.7 L137.1,508.7 L138.2,512.3 L139.4,511.1 L140.7,515.1 L141.9,514.3 L143.2,517.0 L144.4,516.5 L145.7,519.9 L146.9,517.4 L148.2,522.0 L149.4,519.3 L150.6,521.8 L151.9,518.8 L153.1,520.3 L154.3,517.6 L155.6,520.9 L156.8,518.0 L158.1,521.0 L159.2,516.9 L160.2,519.5 L161.2,516.0 L162.3,518.6 L163.5,515.5 L164.6,518.5 L165.8,516.0 L166.9,519.1 L168.1,517.0 L169.3,516.8 L170.6,512.8 L171.8,512.8 L173.0,508.5 L174.2,510.4 L175.5,508.7 L176.8,509.1 L178.0,506.0 L179.1,507.8 L180.2,505.1 L181.3,505.0 L182.6,505.0 L183.8,507.8 L185.1,505.7 L186.3,509.4 L187.6,506.5 L188.8,508.9 L190.1,507.2 L191.3,509.8 L192.7,507.6 L194.1,511.6 L195.5,508.6 L196.9,510.1 L198.2,506.9 L199.6,509.8 L200.7,501.9 L201.8,500.2 L202.9,495.5 L204.2,494.5 L205.4,495.6 L206.7,494.4 L207.9,496.4 L209.0,491.8 L210.1,493.8 L211.2,489.6 L212.3,489.9 L213.4,484.9 L214.5,483.0 L215.8,483.8 L217.0,482.9 L218.2,485.3 L219.5,483.2 L220.6,485.3 L221.7,483.8 L222.8,485.8 L223.9,485.0 L225.0,487.2 L226.2,485.8 L227.5,489.4 L228.8,488.5 L230.0,492.4 L231.2,488.7 L232.4,491.0 L233.7,487.2 L234.9,488.4 L236.0,483.6 L237.2,482.4 L238.3,478.0 L239.5,476.0 L240.8,478.2 L242.0,475.3 L243.2,477.7 L244.2,473.6 L245.3,474.0 L246.3,469.6 L247.4,468.1 L248.8,475.9 L250.1,479.6 L251.5,486.3 L252.6,479.0 L253.8,470.1 L254.9,463.1 L256.1,463.9 L257.4,459.5 L258.6,461.0 L259.8,458.6 L261.1,461.4 L262.3,459.0 L263.6,461.8 L264.8,460.3 L266.1,460.4 L267.3,455.6 L268.6,456.1 L269.8,453.2 L270.9,448.0 L272.0,447.4 L273.1,443.2 L274.2,435.8 L275.3,431.5 L276.4,423.3 L277.5,424.9 L278.7,429.4 L279.8,431.6 L281.2,432.4 L282.5,436.5 L283.9,436.5 L285.3,440.5 L286.6,438.2 L288.0,442.1 L289.2,438.7 L290.5,439.7 L291.8,436.6 L293.0,438.4 L294.4,441.0 L295.8,448.4 L297.2,451.5 L298.4,448.1 L299.5,446.3 L300.7,441.7 L301.8,441.4 L303.0,436.6 L304.2,437.9 L305.5,442.6 L306.8,442.2 L308.0,446.5 L309.2,450.6 L310.3,452.0 L311.5,457.7 L312.6,458.2 L313.8,463.1 L315.0,463.7 L316.1,459.7 L317.3,461.1 L318.4,458.2 L319.6,458.7 L320.9,454.3 L322.1,455.4 L323.4,450.3 L324.6,449.8 L326.0,447.2 L327.3,442.1 L328.7,439.9 L330.1,446.0 L331.5,447.4 L332.9,453.2 L334.1,453.1 L335.4,450.7 L336.6,453.0 L337.9,449.7 L339.1,450.5 L340.4,453.1 L341.6,458.1 L342.9,457.6 L344.1,452.2 L345.4,452.5 L346.6,449.8 L348.0,451.9 L349.4,456.1 L350.8,458.1 L352.2,455.0 L353.5,454.9 L354.9,450.8 L355.9,451.0 L357.0,447.9 L358.1,449.1 L359.1,444.1 L360.5,449.3 L361.8,449.8 L363.2,454.8 L364.4,454.3 L365.7,451.7 L366.9,453.7 L368.2,449.0 L369.4,451.6 L370.7,448.4 L371.9,449.5 L373.2,446.8 L374.4,444.5 L375.5,438.8 L376.7,436.3 L377.8,430.5 L379.0,426.6 L380.2,432.6 L381.5,436.6 L382.9,433.3 L384.2,434.8 L385.6,430.4 L386.9,436.7 L388.1,437.9 L389.4,443.4 L390.6,446.5 L391.9,444.9 L393.1,447.1 L394.4,444.3 L395.6,447.6 L396.9,448.1 L398.1,454.1 L399.4,454.7 L400.6,459.8 L401.8,459.2 L402.9,455.7 L404.1,456.4 L405.2,451.4 L406.4,451.5 L407.6,456.0 L408.9,455.8 L410.1,462.0 L411.3,463.1 L412.7,463.3 L414.1,467.9 L415.5,467.0 L416.9,469.6 L418.2,467.8 L419.6,470.4 L420.7,464.3 L421.9,462.6 L423.0,456.5 L424.2,453.7 L425.4,455.4 L426.7,451.9 L427.9,452.6 L429.1,449.1 L430.4,450.4 L431.6,446.7 L432.9,448.0 L434.0,441.3 L435.1,440.6 L436.2,436.6 L437.3,437.1 L438.4,442.1 L439.5,441.4 L440.7,445.5 L441.8,444.3 L442.9,448.2 L444.3,442.6 L445.6,434.7 L447.0,429.9 L448.4,428.9 L449.8,424.9 L451.2,426.8 L452.4,424.6 L453.7,427.3 L454.9,426.4 L456.1,430.3 L457.3,428.9 L458.5,433.0 L459.6,431.8 L460.8,436.3 L462.0,434.7 L463.2,437.3 L464.3,437.5 L465.4,433.7 L466.5,435.6 L467.6,432.5 L468.7,434.2 L469.8,433.0 L470.9,436.6 L472.1,435.4 L473.2,439.7 L474.3,439.6 L475.4,442.3 L476.6,441.8 L477.8,444.7 L478.9,444.6 L480.1,448.1 L481.2,448.4 L482.6,441.8 L483.9,439.2 L485.3,433.2 L486.7,431.9 L488.1,433.0 L489.5,430.2 L490.6,431.8 L491.7,426.7 L492.8,426.7 L493.9,422.4 L495.0,422.1 L496.1,423.7 L497.2,422.5 L498.3,424.4 L499.4,422.7 L500.5,426.6 L501.6,424.3 L502.7,427.7 L503.9,426.1 L505.0,428.9 L506.1,427.1" fill="none" stroke="#F4BE30" stroke-width="4" stroke-linejoin="round"/>
<path d="M196.5,400.9 H227" stroke="#577B8B" stroke-width="3"/>
<text x="229" y="406" font-size="13.8" text-anchor="start" fill="#111" stroke="#111" stroke-width="0.12" font-weight="normal" style="stroke-width:0.4">铂金</text>
<path d="M318.5,400.9 H349" stroke="#F4BE30" stroke-width="3"/>
<text x="351" y="406" font-size="13.8" text-anchor="start" fill="#111" stroke="#111" stroke-width="0.12" font-weight="normal" style="stroke-width:0.4">黄金</text>
<text x="108.2" y="624.5" font-size="13.3" text-anchor="middle" fill="#111" stroke="#111" stroke-width="0.12" font-weight="normal" >18年1月</text>
<text x="172.8" y="624.5" font-size="13.3" text-anchor="middle" fill="#111" stroke="#111" stroke-width="0.12" font-weight="normal" >19年1月</text>
<text x="237.4" y="624.5" font-size="13.3" text-anchor="middle" fill="#111" stroke="#111" stroke-width="0.12" font-weight="normal" >20年1月</text>
<text x="302.0" y="624.5" font-size="13.3" text-anchor="middle" fill="#111" stroke="#111" stroke-width="0.12" font-weight="normal" >21年1月</text>
<text x="366.6" y="624.5" font-size="13.3" text-anchor="middle" fill="#111" stroke="#111" stroke-width="0.12" font-weight="normal" >22年1月</text>
<text x="431.2" y="624.5" font-size="13.3" text-anchor="middle" fill="#111" stroke="#111" stroke-width="0.12" font-weight="normal" >23年1月</text>
<text x="495.8" y="624.5" font-size="13.3" text-anchor="middle" fill="#111" stroke="#111" stroke-width="0.12" font-weight="normal" >24年1月</text>
<text x="58" y="660" font-size="13.5" text-anchor="start" fill="#111" stroke="#111" stroke-width="0.12" font-weight="normal" >来源: Bloomberg</text>
<path d="M615,395 V599.8" stroke="#777" stroke-width="1.4" fill="none"/>
<path d="M611,395.0 H615 M611,429.1 H615 M611,463.3 H615 M611,497.4 H615 M611,531.5 H615 M611,565.6 H615 M611,599.8 H615 " stroke="#666" stroke-width="1" fill="none"/>
<text x="602" y="399.0" font-size="12.3" text-anchor="end" fill="#111" stroke="#111" stroke-width="0.12" font-weight="normal" >3,400</text>
<text x="602" y="433.1" font-size="12.3" text-anchor="end" fill="#111" stroke="#111" stroke-width="0.12" font-weight="normal" >2,900</text>
<text x="602" y="467.3" font-size="12.3" text-anchor="end" fill="#111" stroke="#111" stroke-width="0.12" font-weight="normal" >2,400</text>
<text x="602" y="501.4" font-size="12.3" text-anchor="end" fill="#111" stroke="#111" stroke-width="0.12" font-weight="normal" >1,900</text>
<text x="602" y="535.5" font-size="12.3" text-anchor="end" fill="#111" stroke="#111" stroke-width="0.12" font-weight="normal" >1,400</text>
<text x="602" y="569.6" font-size="12.3" text-anchor="end" fill="#111" stroke="#111" stroke-width="0.12" font-weight="normal" >900</text>
<text x="602" y="603.8" font-size="12.3" text-anchor="end" fill="#111" stroke="#111" stroke-width="0.12" font-weight="normal" >400</text>
<path d="M615.0,558.1 L616.2,557.6 L617.5,560.4 L618.8,557.7 L620.0,561.5 L621.1,559.1 L622.2,561.5 L623.3,559.7 L624.4,562.0 L625.5,560.1 L626.6,563.2 L627.7,560.7 L628.8,563.6 L629.9,562.0 L631.0,564.1 L632.1,562.5 L633.2,564.6 L634.4,564.0 L635.5,566.5 L636.7,564.6 L637.8,566.7 L639.0,565.5 L640.2,568.2 L641.4,566.6 L642.5,569.8 L643.7,567.6 L644.9,570.7 L646.1,568.0 L647.3,571.9 L648.6,569.8 L649.8,572.2 L651.0,569.3 L652.3,573.4 L653.5,571.8 L654.8,574.7 L656.0,571.2 L657.3,572.6 L658.5,571.4 L659.8,573.3 L661.0,569.4 L662.3,571.1 L663.5,569.1 L664.8,569.8 L666.0,567.8 L667.3,569.6 L668.5,568.0 L669.6,570.6 L670.8,569.2 L671.9,573.7 L673.1,572.3 L674.2,574.7 L675.3,571.4 L676.4,574.3 L677.5,571.0 L678.6,574.2 L679.7,570.5 L681.0,573.2 L682.2,570.1 L683.5,571.6 L684.7,568.2 L686.0,570.3 L687.2,566.9 L688.4,569.5 L689.6,566.0 L690.8,567.8 L691.9,565.9 L693.1,566.9 L694.3,564.8 L695.5,566.1 L696.7,565.6 L698.0,568.4 L699.2,567.7 L700.4,571.2 L701.7,569.8 L702.9,574.0 L704.0,571.4 L705.1,573.1 L706.2,569.8 L707.4,571.8 L708.5,568.7 L709.6,571.4 L710.8,568.4 L711.9,570.1 L713.1,566.7 L714.2,568.9 L715.4,566.6 L716.8,566.7 L718.1,562.1 L719.5,559.8 L720.8,562.6 L722.0,561.2 L723.2,566.0 L724.5,564.7 L725.6,567.1 L726.7,563.4 L727.8,565.3 L728.9,561.8 L730.0,563.6 L731.2,563.6 L732.5,568.6 L733.7,565.4 L735.0,567.3 L736.2,563.7 L737.4,565.1 L738.6,561.3 L739.8,562.9 L740.9,559.2 L742.1,559.7 L743.3,556.2 L744.5,559.0 L745.8,556.4 L747.0,559.4 L748.2,557.2 L749.3,563.0 L750.5,563.8 L751.6,568.0 L752.5,577.6 L753.5,585.5 L755.0,578.9 L756.5,574.7 L757.8,575.8 L759.0,571.6 L760.2,573.9 L761.5,570.4 L762.8,571.4 L764.0,568.8 L765.2,571.3 L766.5,568.9 L767.8,572.2 L769.0,570.4 L770.2,572.7 L771.5,569.6 L772.7,570.4 L773.8,566.3 L775.0,565.3 L776.1,561.7 L777.3,559.8 L778.5,561.2 L779.6,559.2 L780.8,563.2 L781.9,561.0 L783.1,564.8 L784.2,563.2 L785.3,568.3 L786.4,567.5 L787.6,570.1 L788.7,567.0 L789.9,569.7 L791.0,566.7 L792.2,568.7 L793.4,564.2 L794.5,564.5 L795.7,559.4 L796.8,559.3 L798.0,556.4 L799.1,555.0 L800.2,555.5 L801.4,552.7 L802.5,555.5 L803.6,551.5 L804.7,553.3 L805.8,550.3 L806.9,553.4 L808.0,550.2 L809.5,546.1 L811.0,539.0 L812.4,543.1 L813.8,549.0 L815.0,549.2 L816.3,546.4 L817.5,547.5 L818.8,544.2 L820.0,546.7 L821.1,543.5 L822.3,544.4 L823.4,541.9 L824.6,542.1 L825.7,541.5 L826.8,546.2 L827.9,544.6 L829.0,549.3 L830.1,549.4 L831.2,551.5 L832.5,552.1 L833.7,549.3 L835.0,552.1 L836.2,547.8 L837.5,553.0 L838.7,552.9 L840.0,556.6 L841.2,558.1 L842.7,556.7 L844.1,558.8 L845.5,559.4 L846.9,562.4 L848.3,563.5 L849.7,562.4 L851.0,557.2 L852.4,554.8 L853.6,556.3 L854.9,553.4 L856.1,555.3 L857.4,552.5 L858.6,556.4 L859.9,557.3 L861.1,562.6 L862.4,564.7 L863.6,561.5 L864.9,562.1 L866.1,559.3 L867.4,559.7 L868.6,555.3 L869.9,557.4 L871.1,552.8 L872.4,553.6 L873.6,550.9 L874.8,553.0 L876.1,549.5 L877.3,551.7 L878.5,550.7 L879.7,555.1 L880.8,553.2 L882.0,556.9 L883.2,558.1 L884.4,558.3 L885.7,560.8 L886.9,558.3 L888.1,561.1 L889.5,558.6 L890.9,560.0 L892.3,556.6 L893.4,561.0 L894.5,560.0 L895.6,563.6 L896.7,564.0 L897.8,568.3 L898.9,568.9 L900.0,565.9 L901.0,566.6 L902.0,562.6 L903.1,563.1 L904.5,563.2 L905.8,568.4 L907.2,569.7 L908.4,567.3 L909.5,568.8 L910.7,565.7 L911.8,567.4 L913.0,562.8 L914.1,565.0 L915.2,560.6 L916.4,561.4 L917.5,558.7 L918.6,559.7 L919.7,556.4 L920.9,555.3 L922.2,559.0 L923.4,556.7 L924.6,559.5 L925.9,554.7 L927.1,556.9 L928.4,552.4 L929.6,553.2 L930.7,553.0 L931.8,557.7 L933.0,556.7 L934.1,561.0 L935.2,559.9 L936.3,563.1 L937.5,563.9 L938.8,559.3 L940.0,560.8 L941.2,558.5 L942.7,560.9 L944.1,560.2 L945.5,559.3 L946.9,553.0 L948.3,551.4 L949.4,553.8 L950.5,552.0 L951.6,554.7 L952.7,553.1 L953.8,558.4 L955.0,557.1 L956.1,561.0 L957.2,560.2 L958.3,563.8 L959.5,564.9 L960.8,561.1 L962.0,563.8 L963.2,560.3 L964.4,561.8 L965.5,560.0 L966.7,563.0 L967.8,560.6 L969.0,562.9 L970.2,560.4 L971.4,564.1 L972.5,562.9 L973.7,566.8 L974.9,565.2 L976.0,567.0 L977.1,565.5 L978.2,567.9 L979.3,564.6 L980.4,567.4 L981.5,565.8 L982.9,566.9 L984.2,562.5 L985.6,563.8 L987.0,561.1 L988.4,563.7 L989.8,559.5 L990.9,563.9 L992.0,562.9 L993.1,566.8 L994.4,564.6 L995.6,565.8 L996.9,564.1 L998.1,566.1" fill="none" stroke="#577B8B" stroke-width="4" stroke-linejoin="round"/>
<path d="M615.0,550.6 L616.2,550.6 L617.5,554.1 L618.8,552.6 L620.0,556.2 L621.2,555.3 L622.5,557.8 L623.7,556.4 L624.9,560.9 L626.1,559.8 L627.4,562.6 L628.6,559.8 L629.9,562.9 L631.0,559.7 L632.0,561.2 L633.0,557.8 L634.1,558.6 L635.5,558.2 L636.8,561.4 L638.2,557.8 L639.6,560.5 L641.0,557.2 L642.4,559.0 L643.8,557.7 L645.1,562.0 L646.5,560.1 L647.8,564.6 L649.0,561.6 L650.2,566.2 L651.5,563.8 L652.8,566.9 L654.0,567.2 L655.2,564.2 L656.5,558.9 L657.8,557.3 L659.0,557.4 L660.2,554.4 L661.5,556.8 L662.7,552.3 L664.0,554.4 L665.2,549.0 L666.4,550.4 L667.6,547.5 L668.9,549.3 L670.1,546.7 L671.4,548.6 L672.6,543.9 L673.9,544.6 L675.1,539.9 L676.4,541.9 L677.5,535.9 L678.6,536.3 L679.7,531.7 L681.1,532.5 L682.5,528.5 L683.9,531.7 L685.0,525.4 L686.1,523.4 L687.2,519.6 L688.3,518.1 L689.4,519.5 L690.5,515.9 L691.8,527.4 L693.0,532.9 L694.1,529.9 L695.2,531.2 L696.3,527.7 L697.3,532.9 L698.4,531.3 L699.5,536.7 L700.5,535.7 L701.7,534.4 L703.0,529.4 L704.2,530.8 L705.4,526.2 L706.5,522.9 L707.5,523.9 L708.5,519.8 L709.6,521.4 L710.9,521.4 L712.1,525.6 L713.4,526.1 L714.6,529.5 L715.8,527.7 L717.0,523.3 L718.3,522.8 L719.5,519.6 L720.8,516.7 L722.0,516.1 L723.2,511.7 L724.5,511.3 L725.6,510.1 L726.8,506.2 L728.0,507.1 L729.1,504.1 L730.2,508.3 L731.4,507.1 L732.5,511.7 L733.9,502.6 L735.2,501.6 L736.6,494.6 L737.7,494.5 L738.8,497.0 L739.9,495.7 L741.1,478.5 L742.4,456.5 L743.6,462.0 L744.9,471.4 L746.1,468.8 L747.4,463.1 L748.6,447.8 L749.9,434.9 L751.1,447.5 L752.4,458.1 L753.5,517.9 L754.6,489.5 L755.7,464.8 L757.0,471.9 L758.2,476.4 L759.3,484.3 L760.4,495.9 L761.5,504.6 L762.6,497.7 L763.7,492.9 L764.8,486.3 L765.9,487.4 L767.1,493.2 L768.2,494.6 L769.4,496.4 L770.6,501.6 L771.9,491.6 L773.1,486.7 L774.4,477.7 L775.6,471.4 L777.0,475.1 L778.4,475.0 L779.8,479.7 L781.2,475.8 L782.5,469.0 L783.9,464.8 L785.1,471.1 L786.4,474.7 L787.6,466.3 L788.9,459.8 L790.0,466.8 L791.1,469.1 L792.2,474.7 L793.9,456.5 L795.3,462.5 L796.6,463.7 L798.0,468.1 L799.2,468.1 L800.3,462.5 L801.5,462.9 L802.6,458.8 L803.8,458.1 L804.8,462.8 L805.9,464.7 L807.0,470.1 L808.0,473.1 L809.1,468.7 L810.2,468.6 L811.3,463.1 L812.3,461.3 L813.4,466.0 L814.5,463.8 L815.5,465.7 L817.1,444.9 L818.2,442.9 L819.3,445.4 L820.4,443.2 L821.5,439.2 L822.7,429.4 L823.8,424.9 L825.2,429.8 L826.5,431.9 L827.9,438.2 L829.0,443.8 L830.0,446.7 L831.0,452.4 L832.1,456.5 L833.2,446.3 L834.3,441.3 L835.4,431.6 L836.5,436.4 L837.6,443.9 L838.7,448.2 L840.0,447.3 L841.2,451.2 L842.5,450.1 L843.3,469.8 L844.5,467.1 L845.8,462.3 L846.9,477.1 L848.0,485.7 L849.1,499.6 L850.4,491.3 L851.6,481.4 L852.7,484.1 L853.8,488.6 L854.9,491.3 L856.4,484.0 L857.9,479.7 L859.3,495.1 L860.7,507.9 L861.7,512.8 L862.7,519.5 L863.8,509.6 L864.9,498.0 L866.3,495.9 L867.6,498.6 L869.0,494.4 L870.7,466.4 L872.0,470.4 L873.2,470.6 L874.3,455.4 L875.4,436.5 L876.5,421.6 L878.2,449.8 L879.5,465.9 L880.7,479.7 L881.8,471.4 L882.9,467.0 L884.0,459.8 L885.4,470.1 L886.7,485.2 L888.1,496.3 L889.4,496.0 L890.6,501.6 L891.9,499.9 L893.1,503.4 L894.4,495.5 L895.6,493.4 L896.9,484.8 L898.1,481.4 L899.4,480.2 L900.6,476.5 L901.9,477.1 L903.1,473.1 L904.2,477.5 L905.3,484.9 L906.4,489.7 L907.5,483.1 L908.6,480.1 L909.7,473.1 L910.8,471.0 L911.9,471.1 L913.0,466.9 L914.2,478.1 L915.5,484.8 L916.8,495.9 L918.0,502.9 L919.1,495.5 L920.2,493.8 L921.3,486.3 L922.5,491.1 L923.8,499.6 L925.0,502.7 L926.3,509.6 L927.5,510.5 L928.8,507.4 L930.0,509.1 L931.3,504.2 L932.5,511.8 L933.8,513.3 L935.0,520.1 L936.3,522.9 L937.5,522.3 L938.8,525.0 L940.0,523.2 L941.2,527.0 L942.6,522.8 L943.9,521.6 L945.2,517.4 L946.6,515.7 L947.7,518.9 L948.9,517.9 L950.0,520.4 L951.1,521.5 L952.2,527.3 L953.3,529.8 L954.4,531.0 L955.5,534.6 L956.6,533.3 L957.7,538.4 L958.8,537.5 L959.9,542.0 L961.0,538.6 L962.1,541.4 L963.2,538.4 L964.5,540.2 L965.7,538.8 L967.0,542.1 L968.2,540.5 L969.5,541.9 L970.7,539.8 L972.0,541.5 L973.2,539.1 L974.5,545.5 L975.7,545.7 L977.0,549.5 L978.2,547.9 L979.5,552.1 L980.7,551.1 L982.1,556.8 L983.4,555.2 L984.8,559.2 L985.8,552.6 L986.9,552.3 L988.0,546.3 L989.0,543.9 L990.2,553.0 L991.5,558.0 L992.6,557.9 L993.7,562.4 L994.8,562.1 L995.9,563.5 L997.0,560.7 L998.1,563.5 L999.8,564.4" fill="none" stroke="#8CC7B3" stroke-width="4" stroke-linejoin="round"/>
<path d="M703.5,400.9 H735" stroke="#577B8B" stroke-width="3"/>
<text x="737" y="406" font-size="13.8" text-anchor="start" fill="#111" stroke="#111" stroke-width="0.12" font-weight="normal" style="stroke-width:0.4">铂金</text>
<path d="M826.5,400.9 H858" stroke="#8CC7B3" stroke-width="3"/>
<text x="859" y="406" font-size="13.8" text-anchor="start" fill="#111" stroke="#111" stroke-width="0.12" font-weight="normal" style="stroke-width:0.4">钯</text>
<text x="614.8" y="624.5" font-size="13.3" text-anchor="middle" fill="#111" stroke="#111" stroke-width="0.12" font-weight="normal" >18年1月</text>
<text x="677.4" y="624.5" font-size="13.3" text-anchor="middle" fill="#111" stroke="#111" stroke-width="0.12" font-weight="normal" >19年1月</text>
<text x="740.1" y="624.5" font-size="13.3" text-anchor="middle" fill="#111" stroke="#111" stroke-width="0.12" font-weight="normal" >20年1月</text>
<text x="802.8" y="624.5" font-size="13.3" text-anchor="middle" fill="#111" stroke="#111" stroke-width="0.12" font-weight="normal" >21年1月</text>
<text x="865.4" y="624.5" font-size="13.3" text-anchor="middle" fill="#111" stroke="#111" stroke-width="0.12" font-weight="normal" >22年1月</text>
<text x="928.0" y="624.5" font-size="13.3" text-anchor="middle" fill="#111" stroke="#111" stroke-width="0.12" font-weight="normal" >23年1月</text>
<text x="990.7" y="624.5" font-size="13.3" text-anchor="middle" fill="#111" stroke="#111" stroke-width="0.12" font-weight="normal" >24年1月</text>
<text x="577" y="660" font-size="13.5" text-anchor="start" fill="#111" stroke="#111" stroke-width="0.12" font-weight="normal" >来源: Bloomberg</text>
<text x="528.3" y="694.5" font-size="16" text-anchor="middle" fill="#777" stroke="#777" stroke-width="0.12" font-weight="normal" >15</text>
<g fill="none" stroke="#35343A" stroke-width="4.5" stroke-linejoin="miter"><path d="M1017,703 V665.5 L1033,681 L1049,665.5 V703"/><path d="M1041.7,683 V708.5 M1041.7,683.3 H1060 M1041.7,694.8 H1056"/></g>
</svg></body></html>
